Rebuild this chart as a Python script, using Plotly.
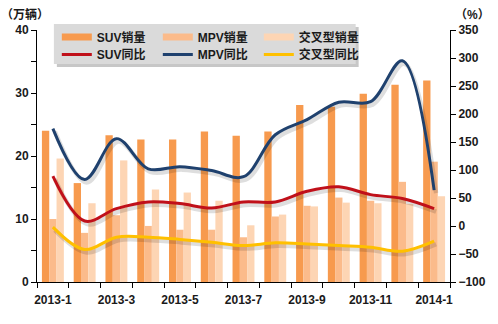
import plotly.graph_objects as go

categories = ["2013-1", "2013-2", "2013-3", "2013-4", "2013-5", "2013-6", "2013-7",
              "2013-8", "2013-9", "2013-10", "2013-11", "2013-12", "2014-1"]
tick_labels = [c if i % 2 == 0 else "" for i, c in enumerate(categories)]

suv_sales = [24.0, 15.7, 23.3, 22.6, 22.6, 23.9, 23.2, 23.9, 28.1, 27.8, 29.9, 31.3, 32.0]
mpv_sales = [10.0, 7.8, 10.6, 8.9, 8.3, 8.3, 7.1, 10.4, 12.1, 13.4, 12.9, 15.9, 19.1]
cross_sales = [19.6, 12.5, 19.3, 14.7, 14.2, 12.9, 9.0, 10.7, 12.0, 12.6, 12.5, 12.4, 13.6]

suv_yoy = [89, 9, 31, 43, 40, 32, 43, 43, 62, 70, 56, 49, 31]
mpv_yoy = [174, 83, 156, 102, 106, 99, 88, 163, 190, 221, 222, 295, 64]
cross_yoy = [-2, -42, -20, -20, -24, -29, -35, -30, -32, -35, -38, -45, -27]

bar_names = ["SUV销量", "MPV销量", "交叉型销量"]
line_names = ["SUV同比", "MPV同比", "交叉型同比"]
bar_colors = ["#F79A4E", "#FBBB8B", "#FDD5B4"]
line_colors = ["#C0101A", "#1F416E", "#FFC000"]

FONT = "Liberation Sans, Arial, Noto Sans CJK SC, sans-serif"

fig = go.Figure()

# bars
for name, vals, col in zip(bar_names, [suv_sales, mpv_sales, cross_sales], bar_colors):
    fig.add_trace(go.Bar(x=categories, y=vals, name=name, marker=dict(color=col, line=dict(width=0)),
                         showlegend=False, xaxis="x", yaxis="y"))

# legend proxies for bars (wide rectangles)
for name, col in zip(bar_names, bar_colors):
    fig.add_trace(go.Scatter(x=[None], y=[None], mode="lines", name=name,
                             line=dict(color=col, width=7), legend="legend",
                             xaxis="x", yaxis="y"))

# shadows of lines
for vals in [suv_yoy, mpv_yoy, cross_yoy]:
    fig.add_trace(go.Scatter(x=categories, y=vals, mode="lines", showlegend=False,
                             line=dict(color="rgba(0,0,0,0.13)", width=4.5, shape="spline", smoothing=1.0),
                             hoverinfo="skip", xaxis="x2", yaxis="y2"))

# lines
for name, vals, col in zip(line_names, [suv_yoy, mpv_yoy, cross_yoy], line_colors):
    fig.add_trace(go.Scatter(x=categories, y=vals, mode="lines", name=name,
                             line=dict(color=col, width=3, shape="spline", smoothing=1.0),
                             legend="legend2", xaxis="x3", yaxis="y3"))

tickfont = dict(family=FONT, size=12, color="#1a1a1a", weight="bold")
legfont = dict(family=FONT, size=12, color="#1a1a1a", weight="bold")

px_per_cat = 416 / 13
px_per_pct = 252.5 / 450
sx = 2 / px_per_cat
sy = 3 / px_per_pct

fig.update_layout(
    width=498, height=324,
    margin=dict(l=37, r=45, t=30, b=42),
    paper_bgcolor="white", plot_bgcolor="white",
    barmode="group", bargap=0.31, bargroupgap=0,
    xaxis=dict(type="category", categoryorder="array", categoryarray=categories,
               range=[-0.5, 12.5], tickmode="array", tickvals=categories, ticktext=tick_labels,
               tickson="boundaries", ticks="outside", ticklen=5, tickcolor="black",
               showline=True, linecolor="black", linewidth=1, showgrid=False,
               tickfont=tickfont, ticklabelstandoff=7, tickangle=0),
    yaxis=dict(range=[0, 40], tickmode="linear", dtick=10, ticks="outside", ticklen=5,
               tickcolor="black", showline=True, linecolor="black", linewidth=1,
               showgrid=False, zeroline=False, tickfont=tickfont,
               minor=dict(dtick=5, ticks="outside", ticklen=5, tickcolor="black")),
    xaxis2=dict(type="category", categoryorder="array", categoryarray=categories,
                overlaying="x", range=[-0.5 - sx, 12.5 - sx], visible=False),
    yaxis2=dict(overlaying="y", range=[-100 + sy, 350 + sy], visible=False),
    xaxis3=dict(type="category", categoryorder="array", categoryarray=categories,
                overlaying="x", range=[-0.5, 12.5], visible=False),
    yaxis3=dict(overlaying="y", side="right", range=[-100, 350], tickmode="linear", dtick=50,
                ticks="outside", ticklen=5, tickcolor="black", showline=True,
                linecolor="black", linewidth=1, showgrid=False, zeroline=False,
                tickfont=tickfont),
    legend=dict(orientation="h", x=0.048, xanchor="left", y=0.972, yanchor="middle",
                bgcolor="rgba(0,0,0,0)", font=legfont, entrywidth=56,
                entrywidthmode="pixels", itemwidth=30, traceorder="normal"),
    legend2=dict(orientation="h", x=0.048, xanchor="left", y=0.903, yanchor="middle",
                 bgcolor="rgba(0,0,0,0)", font=legfont, entrywidth=56,
                 entrywidthmode="pixels", itemwidth=30, traceorder="normal"),
    showlegend=True,
)

def px2paper_x(px):
    return (px - 37) / 416

def px2paper_y(py):
    return (282 - py) / 252

# legend box shadow and box
fig.add_shape(type="rect", xref="paper", yref="paper",
              x0=px2paper_x(57), x1=px2paper_x(361), y0=px2paper_y(67), y1=px2paper_y(27),
              fillcolor="rgba(0,0,0,0.22)", line=dict(width=0), layer="above")
fig.add_shape(type="rect", xref="paper", yref="paper",
              x0=px2paper_x(54), x1=px2paper_x(358), y0=px2paper_y(64), y1=px2paper_y(24),
              fillcolor="#DADADA", line=dict(width=0), layer="above")

fig.add_annotation(text="（万辆）", xref="paper", yref="paper", x=px2paper_x(25), y=px2paper_y(15),
                   xanchor="center", yanchor="middle",
                   showarrow=False, font=dict(family=FONT, size=12, color="#1a1a1a", weight="bold"))
fig.add_annotation(text="（%）", xref="paper", yref="paper", x=px2paper_x(476), y=px2paper_y(15),
                   xanchor="center", yanchor="middle",
                   showarrow=False, font=dict(family=FONT, size=12, color="#1a1a1a", weight="bold"))

fig.write_html("out.html")
